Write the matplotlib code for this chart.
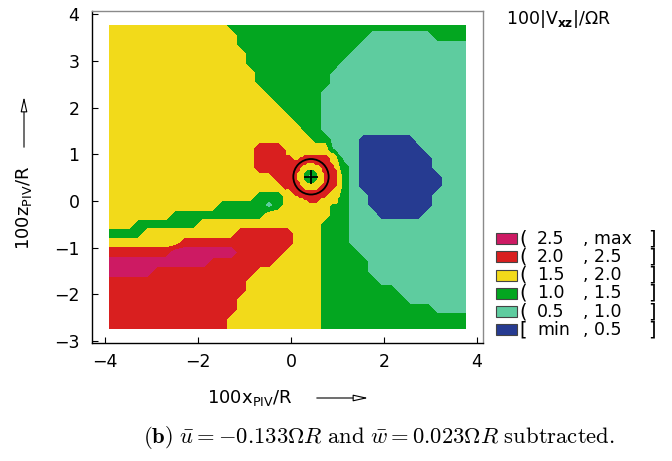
import numpy as np
import matplotlib
matplotlib.use("Agg")
import matplotlib.pyplot as plt
from matplotlib.patches import Rectangle, Circle

plt.rcParams['font.family'] = ['DejaVu Sans']
plt.rcParams['mathtext.fontset'] = 'dejavusans'

# ---- data ----
level_colors = ["#263B91", "#5ECC9F", "#03A620", "#F2DA1A", "#D91F1F", "#CD1A63"]
level_bounds = [0.0, 0.5, 1.0, 1.5, 2.0, 2.5, 3.0]
legend_open = ["[", "(", "(", "(", "(", "("]
legend_low = ["min", "0.5", "1.0", "1.5", "2.0", "2.5"]
legend_high = ["0.5", "1.0", "1.5", "2.0", "2.5", "max"]

x_ticks = [-4, -2, 0, 2, 4]
z_ticks = [-3, -2, -1, 0, 1, 2, 3, 4]

# measured field: class index per cell (run-length "class x count"),
# classes 0..5 = [min,0.5),[0.5,1),[1,1.5),[1.5,2),[2,2.5),[2.5,max)
field_x_range = (-3.9, 3.76)
field_z_range = (3.75, -2.72)
field_rows = [
    "3x13 2x26",
    "3x14 2x14 1x7 2x4",
    "3x14 2x13 1x12",
    "3x15 2x11 1x13",
    "3x15 2x10 1x14",
    "3x16 2x8 1x15",
    "3x16 2x8 1x15",
    "3x17 2x6 1x16",
    "3x18 2x5 1x16",
    "3x19 2x4 1x16",
    "3x20 2x3 1x16",
    "3x21 2x2 1x16",
    "3x22 2x2 1x3 0x6 1x6",
    "3x16 4x3 3x5 1x3 0x7 1x5",
    "3x16 4x4 3x1 4x3 3x1 1x2 0x8 1x4",
    "3x16 4x5 3x2 4x1 3x1 2x1 1x1 0x8 1x4",
    "3x18 4x3 3x1 2x1 3x1 4x1 2x1 1x1 0x9 1x3",
    "3x19 4x2 3x2 4x2 2x1 1x1 0x9 1x3",
    "3x16 2x3 3x2 4x3 3x1 2x1 1x2 0x7 1x4",
    "3x12 2x5 1x1 2x1 3x5 2x2 1x2 0x7 1x4",
    "3x7 2x10 3x7 2x2 1x3 0x5 1x5",
    "3x3 2x7 3x13 2x3 1x13",
    "2x4 3x10 4x6 3x3 2x3 1x13",
    "3x8 4x12 3x3 2x3 1x13",
    "4x7 5x7 4x5 3x4 2x4 1x12",
    "5x11 4x7 3x5 2x5 1x11",
    "5x5 4x11 3x7 2x5 1x11",
    "4x15 3x8 2x6 1x10",
    "4x15 3x8 2x8 1x8",
    "4x14 3x9 2x9 1x7",
    "4x14 3x9 2x12 1x4",
    "4x13 3x10 2x16",
    "4x13 3x10 2x16",
]

# finer measurement around the rotor
rotor_x_range = (-0.1, 1.0)
rotor_z_range = (1.1, -0.05)
rotor_rows = [
    "3x18 2x3 1x2",
    "3x19 2x3 1x1",
    "3x21 2x2",
    "4x2 3x6 4x10 3x4 2x1",
    "4x3 3x3 4x13 3x3 2x1",
    "4x19 3x4",
    "4x9 3x4 4x7 3x3",
    "4x7 3x8 4x6 3x2",
    "4x6 3x10 4x5 3x2",
    "4x6 3x3 2x4 3x3 4x6 3x1",
    "4x5 3x3 2x6 3x3 4x5 3x1",
    "4x5 3x3 2x2 1x2 2x2 3x3 4x5 3x1",
    "4x5 3x3 2x2 1x2 2x2 3x3 4x5 3x1",
    "4x5 3x3 2x6 3x3 4x5 3x1",
    "4x6 3x3 2x4 3x4 4x5 3x1",
    "4x6 3x10 4x6 3x1",
    "4x7 3x8 4x6 3x2",
    "3x2 4x6 3x6 4x6 3x3",
    "3x3 4x16 3x4",
    "3x4 4x14 3x5",
    "3x6 4x11 3x6",
    "3x8 4x7 3x8",
    "3x10 4x4 3x9",
    "3x22 2x1",
]
rotor_center = (0.43, 0.52)
rotor_radius = 0.38


def decode(rows):
    out = []
    for r in rows:
        cells = []
        for tok in r.split():
            c, n = tok.split("x")
            cells += [int(c)] * int(n)
        out.append(cells)
    return np.array(out, dtype=float) * 0.5 + 0.25


W, H = 672, 461
fig = plt.figure(figsize=(W / 100, H / 100), dpi=100)
ax = fig.add_axes([92 / W, (H - 343) / H, 391 / W, 332 / H])

F = decode(field_rows)
fx = np.linspace(field_x_range[0], field_x_range[1], F.shape[1])
fz = np.linspace(field_z_range[0], field_z_range[1], F.shape[0])
ax.contourf(fx, fz, F, levels=level_bounds, colors=level_colors, zorder=1)

R = decode(rotor_rows)
rx = np.linspace(rotor_x_range[0], rotor_x_range[1], R.shape[1])
rz = np.linspace(rotor_z_range[0], rotor_z_range[1], R.shape[0])
ax.contourf(rx, rz, R, levels=level_bounds, colors=level_colors, zorder=2)

ax.add_patch(Circle(rotor_center, rotor_radius, fill=False, ec="black", lw=1.3, zorder=3))
ax.plot([rotor_center[0]], [rotor_center[1]], marker="+", ms=10, mew=1.3, color="black", zorder=4)

ax.set_xlim(-4.28, 4.13)
ax.set_ylim(-3.04, 4.07)
ax.set_xticks(x_ticks)
ax.set_yticks(z_ticks)
ax.tick_params(direction="in", length=4, width=0.8, labelsize=12.5)
ax.tick_params(axis="x", pad=7)
ax.tick_params(axis="y", pad=9)
for s in ["left", "bottom"]:
    ax.spines[s].set_color("black")
    ax.spines[s].set_linewidth(1.0)
for s in ["top", "right"]:
    ax.spines[s].set_color("#8a8a8a")
    ax.spines[s].set_linewidth(1.0)

# axis labels with arrows
fig.text(207 / W, 1 - 398 / H, r"100x$_{\mathrm{PIV}}$/R", ha="left", va="center", fontsize=13)
fig.add_artist(plt.Annotation("", xy=(371 / W, 1 - 398 / H), xytext=(314 / W, 1 - 398 / H),
                              xycoords="figure fraction", textcoords="figure fraction",
                              arrowprops=dict(arrowstyle="-|>,head_length=0.9,head_width=0.2",
                                              fc="white", ec="black", lw=0.8)))
fig.text(24 / W, 1 - 208 / H, r"100z$_{\mathrm{PIV}}$/R", ha="center", va="center",
         rotation=90, fontsize=13)
fig.add_artist(plt.Annotation("", xy=(24 / W, 1 - 94 / H), xytext=(24 / W, 1 - 150 / H),
                              xycoords="figure fraction", textcoords="figure fraction",
                              arrowprops=dict(arrowstyle="-|>,head_length=0.9,head_width=0.2",
                                              fc="white", ec="black", lw=0.8)))

# colour key
fig.text(506 / W, 1 - 18.5 / H, r"100|V$_{\mathbf{xz}}$|/$\Omega$R", ha="left", va="center", fontsize=12.5)
n = len(level_colors)
for k in range(n):
    idx = n - 1 - k
    yc = 238.5 + 18.3 * k
    fig.add_artist(Rectangle((496 / W, 1 - (yc + 5.5) / H), 21 / W, 11 / H,
                             transform=fig.transFigure, fc=level_colors[idx], ec="#444444", lw=0.8))
    fig.text(519 / W, 1 - yc / H, legend_open[idx], ha="left", va="center", fontsize=14)
    fig.text(537 / W, 1 - yc / H, legend_low[idx], ha="left", va="center", fontsize=12.5)
    fig.text(583 / W, 1 - yc / H, ", " + legend_high[idx], ha="left", va="center", fontsize=12.5)
    fig.text(648 / W, 1 - yc / H, "]", ha="left", va="center", fontsize=14)

# caption
fig.text(0.564, 1 - 437 / H,
         r"$\mathbf{(b)}\ \bar{u}=-0.133\Omega R\ \mathrm{and}\ \bar{w}=0.023\Omega R\ \mathrm{subtracted.}$",
         math_fontfamily="cm", fontsize=16.3, ha="center", va="center")

fig.savefig("out.png", dpi=100)
